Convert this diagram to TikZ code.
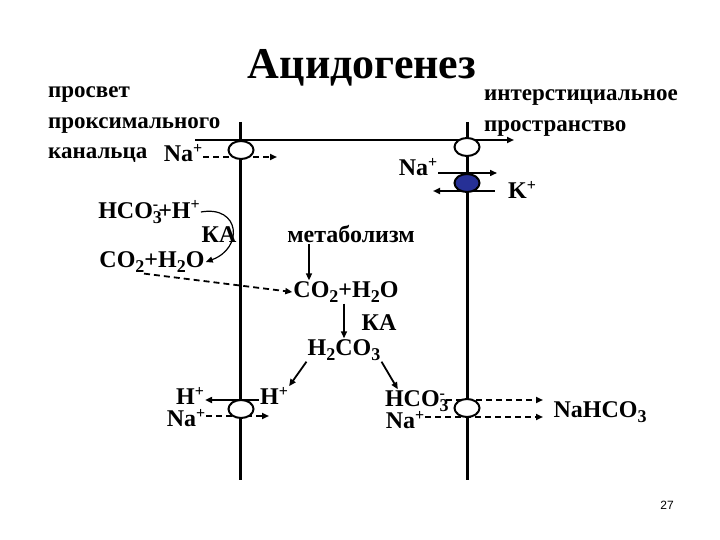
\documentclass[tikz,border=0pt]{standalone}
\usepackage{fontspec}
\setmainfont{Liberation Serif}
\newfontfamily\numfont{Liberation Sans}
\usetikzlibrary{shapes.geometric,arrows.meta}
\definecolor{pumpblue}{RGB}{38,48,150}
\newcommand{\Chan}[2][]{\node[ellipse, draw, line width=2pt, fill=white, minimum width=25pt, minimum height=18pt, inner sep=0pt, #1] (#2) {};}
\newcommand{\Pump}[2][]{\Chan[#1, fill=pumpblue]{#2}}
\newcommand{\Lbl}[3][]{\node[lbl, #1] (#2) {#3};}
\newcommand{\dn}[1]{\raisebox{-0.45ex}{\fontsize{18}{18}\selectfont #1}}
\newcommand{\up}[1]{\raisebox{0.75ex}{\fontsize{16}{16}\selectfont #1}}
\newcommand{\dnup}[2]{\rlap{\dn{#1}}\up{#2}}

\begin{document}
\begin{tikzpicture}[x=1pt, y=-1pt,
	lbl/.style={font=\bfseries\fontsize{24}{28}\selectfont, inner sep=1pt},
	memb/.style={line width=3pt},
	tip/.style={-{Triangle[length=7pt,width=6pt]}},
	flux/.style={tip, dash pattern=on 6pt off 4pt, line width=1.8pt}]
\useasboundingbox (0,0) rectangle (720,540);
	\coordinate (lt) at (240,122);
	\coordinate (lb) at (240,480);
	\coordinate (rt) at (467,122);
	\coordinate (rb) at (467,480);
	\coordinate (ht) at (195,140);
	\coordinate (hr) at (514,140);
	\coordinate (na1e) at (277,157);
	\coordinate (na2e) at (497,173);
	\coordinate (ke) at (433,191);
	\coordinate (mx) at (309,0);
	\coordinate (na3e) at (269,416);
	\coordinate (hco2e) at (543,400);
	\coordinate (na4e) at (543,417);

	\Lbl[font=\bfseries\fontsize{44}{48}\selectfont, at={(362,68)}]{title}{Ацидогенез}
	\Lbl[align=left, anchor=west, font=\bfseries\fontsize{23}{30.5}\selectfont, at={(47,125)}]{lumen}{просвет\\проксимального\\канальца}
	\Lbl[align=left, anchor=west, font=\bfseries\fontsize{23}{30.5}\selectfont, at={(483,113)}]{inter}{интерстициальное\\пространство}
	\Lbl[at={(183,153)}]{na1}{Na\up{+}}
	\Lbl[at={(418,167)}]{na2}{Na\up{+}}
	\Lbl[at={(522,190)}]{k}{K\up{+}}
	\Lbl[at={(149,212)}]{hco1}{HCO\dnup{3}{-}+H\up{+}}
	\Lbl[at={(219,235)}]{ka1}{КА}
	\Lbl[at={(152,262)}]{co1}{CO\dn{2}+H\dn{2}O}
	\Lbl[at={(351,234)}]{met}{метаболизм}
	\Lbl[at={(346,292)}]{co2}{CO\dn{2}+H\dn{2}O}
	\Lbl[at={(379,323)}]{ka2}{КА}
	\Lbl[at={(344,350)}]{hcc}{H\dn{2}CO\dn{3}}
	\Lbl[at={(274,396)}]{hin}{H\up{+}}
	\Lbl[at={(190,396)}]{hout}{H\up{+}}
	\Lbl[at={(186,418)}]{na3}{Na\up{+}}
	\Lbl[at={(415,401)}]{hco2}{HCO\dnup{3}{-}}
	\Lbl[at={(405,420)}]{na4}{Na\up{+}}
	\Lbl[at={(600,412)}]{nahco}{NaHCO\dn{3}}
	\node[font=\numfont\fontsize{12}{14}\selectfont, at={(667,505)}] (page) {27};

	\draw[memb] (lt) -- (lb);
	\draw[memb] (rt) -- (rb);
	\draw[line width=2.5pt, tip] (ht) -- (hr);
	\draw[flux] (na1.east |- na1e) -- (na1e);
	\draw[tip, line width=1.5pt] (na2.east |- na2e) -- (na2e);
	\draw[tip, line width=2pt] ([xshift=-12pt]k.west |- ke) -- (ke);
	\draw[tip, line width=1.2pt] (hco1.east) .. controls (240,205) and (244,248) .. (co1.east);
	\draw[flux] ([xshift=-8pt]co1.south) -- (co2.west);
	\draw[tip, line width=1.5pt] (met.south -| mx) -- (co2.north -| mx);
	\draw[tip, line width=1.5pt] (hcc.north |- co2.south) -- (hcc.north);
	\draw[tip, line width=1.8pt] (hcc.south west) -- (hin.north east);
	\draw[tip, line width=1.8pt] (hcc.south east) -- ([xshift=14pt]hco2.north west);
	\draw[tip, line width=2.5pt] ([yshift=-4pt]hin.west) -- ([yshift=-4pt]hin.west -| hout.east);
	\draw[flux] (na3.east |- na3e) -- (na3e);
	\draw[flux] (hco2.east |- hco2e) -- (hco2e);
	\draw[flux] (na4.east |- na4e) -- (na4e);

	\Chan[at={(241,409)}]{ch3}
	\Chan[at={(241,150)}]{ch1}
	\Chan[at={(467,147)}]{ch2}
	\Pump[at={(467,183)}]{pump}
	\Chan[at={(467,408)}]{ch4}
\end{tikzpicture}
\end{document}
